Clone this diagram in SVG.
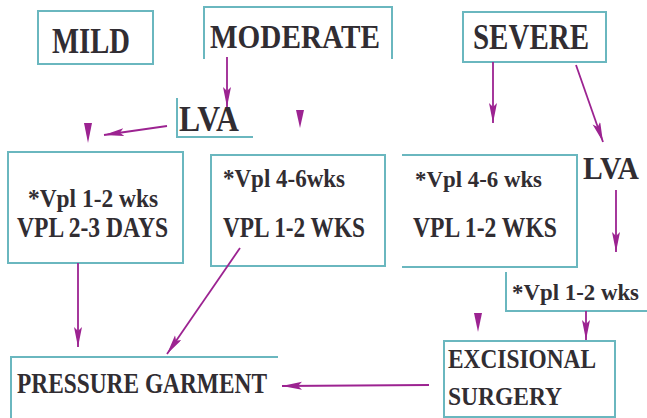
<svg xmlns="http://www.w3.org/2000/svg" width="647" height="418" viewBox="0 0 647 418">
<style>
.b{fill:none;stroke:#6ab7bf;stroke-width:2}
.t{font-family:"Liberation Serif","Times New Roman",serif;font-weight:bold;fill:#312d32}
.c{fill:none;stroke:#9c2391;stroke-width:1.8}
.h{fill:#9c2391}
</style>
<defs>
<marker id="ah" markerUnits="userSpaceOnUse" markerWidth="22" markerHeight="10" refX="20" refY="4" orient="auto" viewBox="0 0 22 10">
<path d="M0,0 L20,4 L0,8 L4,4 Z" fill="#9c2391"/>
</marker>
</defs>
<rect width="647" height="418" fill="#ffffff"/>
<g id="mild">
<rect class="b" x="38" y="11" width="115" height="53"/>
<text class="t" x="52" y="53" font-size="36" textLength="78" lengthAdjust="spacingAndGlyphs">MILD</text>
</g>
<g id="moderate">
<path class="b" d="M204,59 V7 H392 V59"/>
<text class="t" x="210" y="48" font-size="34" textLength="170" lengthAdjust="spacingAndGlyphs">MODERATE</text>
</g>
<g id="severe">
<rect class="b" x="463" y="12" width="143" height="50"/>
<text class="t" x="473" y="49" font-size="35" textLength="116" lengthAdjust="spacingAndGlyphs">SEVERE</text>
</g>
<g id="lva-moderate">
<path class="b" d="M177,98 V137 H253"/>
<text class="t" x="179" y="131" font-size="35" textLength="60" lengthAdjust="spacingAndGlyphs">LVA</text>
</g>
<g id="lva-severe">
<text class="t" x="583" y="179" font-size="31" textLength="56" lengthAdjust="spacingAndGlyphs">LVA</text>
</g>
<g id="mild-box">
<rect class="b" x="8" y="152" width="175" height="111"/>
<text class="t" x="28" y="207" font-size="25" textLength="130" lengthAdjust="spacingAndGlyphs">*Vpl 1-2 wks</text>
<text class="t" x="17" y="237" font-size="29" textLength="151" lengthAdjust="spacingAndGlyphs">VPL 2-3 DAYS</text>
</g>
<g id="moderate-box">
<rect class="b" x="211" y="155" width="174" height="111"/>
<text class="t" x="223" y="187" font-size="25" textLength="122" lengthAdjust="spacingAndGlyphs">*Vpl 4-6wks</text>
<text class="t" x="223" y="237" font-size="29" textLength="142" lengthAdjust="spacingAndGlyphs">VPL 1-2 WKS</text>
</g>
<g id="severe-box">
<path class="b" d="M402,155 H577 V267 H402"/>
<text class="t" x="415" y="187" font-size="23" textLength="127" lengthAdjust="spacingAndGlyphs">*Vpl 4-6 wks</text>
<text class="t" x="413" y="237" font-size="29" textLength="144" lengthAdjust="spacingAndGlyphs">VPL 1-2 WKS</text>
</g>
<g id="lva-vpl">
<path class="b" d="M506,272 V311 H647"/>
<text class="t" x="512" y="300" font-size="24" textLength="127" lengthAdjust="spacingAndGlyphs">*Vpl 1-2 wks</text>
</g>
<g id="excisional">
<rect class="b" x="444" y="341" width="171" height="76"/>
<text class="t" x="448" y="368" font-size="27" textLength="148" lengthAdjust="spacingAndGlyphs">EXCISIONAL</text>
<text class="t" x="448" y="405" font-size="26" textLength="114" lengthAdjust="spacingAndGlyphs">SURGERY</text>
</g>
<g id="pressure">
<path class="b" d="M11,418 V357 H278"/>
<text class="t" x="17" y="393" font-size="29" textLength="250" lengthAdjust="spacingAndGlyphs">PRESSURE GARMENT</text>
</g>
<g id="connectors">
<line class="c" x1="227" y1="57" x2="227" y2="107" marker-end="url(#ah)"/>
<line class="c" x1="167" y1="126" x2="104" y2="135" marker-end="url(#ah)"/>
<line class="c" x1="493" y1="62" x2="493" y2="123" marker-end="url(#ah)"/>
<line class="c" x1="576" y1="65" x2="603" y2="142" marker-end="url(#ah)"/>
<line class="c" x1="616" y1="190" x2="616" y2="252" marker-end="url(#ah)"/>
<line class="c" x1="78" y1="263" x2="78" y2="347" marker-end="url(#ah)"/>
<line class="c" x1="240" y1="248" x2="167" y2="354" marker-end="url(#ah)"/>
<line class="c" x1="586" y1="311" x2="586" y2="340" marker-end="url(#ah)"/>
<line class="c" x1="429" y1="385" x2="282" y2="386" marker-end="url(#ah)"/>
<path class="h" d="M84,123 L92,123 L88,143 Z"/>
<path class="h" d="M296,110 L304,110 L300,128 Z"/>
<path class="h" d="M474,313 L482,313 L478,332 Z"/>
</g>
</svg>
